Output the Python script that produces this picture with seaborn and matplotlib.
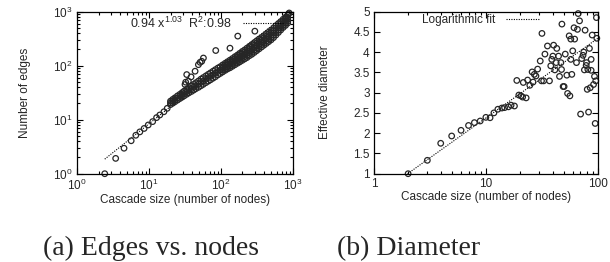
import numpy as np
import pandas as pd
import matplotlib
matplotlib.use("Agg")
import matplotlib.pyplot as plt
import seaborn as sns
from matplotlib.ticker import LogLocator, FuncFormatter, MultipleLocator, NullFormatter

# --- (a) edges vs nodes: values ---
small_nodes = [2.44, 3.46, 4.52, 5.68, 6.59, 7.5, 8.6, 9.8, 11.3, 12.8, 14.2, 16.2, 18.0]
small_edges = [1.0, 1.92, 2.96, 4.07, 5.14, 5.94, 6.87, 7.97, 9.2, 10.9, 12.2, 14.0, 16.2]

outlier_nodes = [172, 85, 134, 57.3, 54.3, 48.8, 51.5, 43.9, 33.6, 38.6, 32.5, 35.4, 31.8, 297, 870, 890]
outlier_edges = [351, 190, 210, 138, 120, 104, 115, 78.7, 68.2, 61.8, 49.3, 51.5, 44.7, 433, 900, 940]

# dense band of cascades (lower edge, middle, upper edge)
band_nodes = [20, 21.5, 23, 25, 27, 29, 31, 33.5, 36, 39, 42, 45, 49, 53, 57, 62, 67, 72, 78, 84,
              91, 98, 106, 115, 124, 134, 145, 157, 170, 183, 198, 214, 231, 250, 270, 292, 315,
              340, 368, 397, 429, 463, 500, 540, 583, 630, 680, 735, 793, 850]
band_low = [19.0, 20.2, 21.4, 23.0, 24.6, 26.1, 27.6, 29.5, 31.3, 33.2, 35.3, 37.4, 39.7, 42.4, 45.0,
            48.4, 51.6, 54.7, 58.5, 62.2, 67.3, 71.5, 76.3, 81.7, 86.8, 91.1, 97.2, 103.6, 110.5,
            117.1, 124.7, 132.7, 140.9, 152.5, 162.0, 175.2, 189.0, 204.0, 220.8, 238.2, 257.4,
            277.8, 300.0, 329.4, 367.3, 409.5, 455.6, 507.2, 555.1, 612.0]
band_mid = [20.4, 21.9, 23.3, 25.1, 26.9, 28.7, 30.5, 32.8, 34.9, 37.4, 39.8, 42.4, 45.4, 48.8, 51.9,
            55.9, 59.7, 63.4, 67.9, 72.3, 77.9, 82.5, 88.6, 95.0, 101.1, 107.1, 114.5, 123.0, 131.5,
            140.4, 150.7, 160.8, 172.1, 186.3, 199.5, 215.8, 232.8, 251.2, 270.4, 291.7, 315.3,
            340.2, 367.4, 402.3, 446.2, 495.1, 545.4, 604.4, 660.2, 721.2]
band_high = [22.0, 23.7, 25.3, 27.5, 29.4, 31.6, 33.8, 36.5, 38.9, 42.1, 44.9, 48.2, 51.9, 56.2, 59.9,
             64.5, 69.0, 73.4, 78.8, 84.0, 90.1, 95.1, 102.8, 110.4, 117.8, 126.0, 134.9, 146.0,
             156.4, 168.4, 182.2, 194.7, 210.2, 227.5, 245.7, 265.7, 286.7, 309.4, 331.2, 357.3,
             386.1, 416.7, 450.0, 491.4, 542.2, 598.5, 652.8, 720.3, 785.1, 850.0]

# the band is thicker for big cascades: two extra rows there
wide_nodes = [106, 115, 124, 134, 145, 157, 170, 183, 198, 214, 231, 250, 270, 292, 315,
              340, 368, 397, 429, 463, 500, 540, 583, 630, 680, 735, 793, 850]
wide_q1 = [82.2, 88.1, 93.7, 98.8, 105.5, 112.9, 120.5, 128.2, 137.1, 146.1, 155.7, 168.6, 179.8,
           194.4, 209.8, 226.4, 244.3, 263.6, 284.9, 307.4, 332.0, 364.0, 404.8, 450.3, 498.5,
           553.7, 605.4, 664.4]
wide_q3 = [95.4, 102.4, 109.1, 116.2, 124.3, 134.0, 143.4, 153.8, 165.7, 176.9, 190.2, 205.9, 221.4,
           239.5, 258.3, 278.8, 299.3, 322.8, 348.9, 376.5, 406.6, 444.6, 491.9, 544.3, 596.7,
           659.8, 719.9, 783.0]

fit_a_nodes = [2.44, 900]
fit_a_edges = [1.86, 1000]
fit_a_label = r"0.94 x$^{1.03}$  R$^{2}$:0.98"

# --- (b) diameter ---
diam_nodes = [2.02, 3.0, 3.95, 4.95, 6.0, 7.0, 7.9, 8.9, 10.0, 10.9, 11.8, 12.8, 13.9, 14.7, 15.9,
              16.8, 18.0, 18.9, 19.7, 20.6, 21.3, 22.9, 21.6, 23.6, 24.7, 25.9, 26.4, 27.1, 28.0,
              29.0, 30.6, 31.7, 31.4, 32.8, 33.7, 35.5, 37.0, 38.0, 38.8, 39.7, 40.3, 41.3, 43.0,
              42.5, 44.6, 45.5, 46.8, 47.4, 47.8, 49.0, 50.0, 51.2, 52.9, 53.7, 55.5, 56.3, 57.4,
              57.4, 58.6, 59.7, 61.3, 62.1, 64.5, 65.8, 66.8, 68.7, 70.2, 71.8, 73.8, 74.9, 75.9,
              77.0, 78.7, 79.3, 80.5, 81.5, 82.7, 84.2, 85.5, 87.2, 87.2, 89.1, 91.6, 93.4, 94.8,
              95.9, 97.2, 98.0]
diam_values = [1.0, 1.33, 1.75, 1.93, 2.07, 2.19, 2.26, 2.3, 2.39, 2.38, 2.5, 2.59, 2.62, 2.63, 2.65,
               2.69, 2.67, 3.3, 2.94, 2.92, 2.89, 2.87, 3.25, 3.31, 3.18, 3.51, 3.26, 3.45, 3.41,
               3.58, 3.78, 4.46, 3.29, 3.29, 3.95, 4.15, 3.29, 3.66, 3.82, 3.9, 4.17, 3.56, 4.09,
               3.74, 3.9, 3.4, 3.74, 3.57, 4.69, 3.15, 3.15, 3.95, 3.43, 2.98, 4.4, 2.92, 4.32,
               3.82, 3.45, 4.03, 4.6, 4.32, 3.74, 4.56, 4.95, 4.77, 2.47, 3.84, 3.92, 4.0, 3.56,
               4.54, 3.67, 3.74, 3.08, 3.57, 2.52, 4.09, 3.12, 3.82, 3.55, 4.42, 3.2, 3.4, 2.24,
               3.29, 4.85, 4.34]

fit_b_nodes = [2.0, 100.0]
fit_b_diam = [1.0, 4.34]
fit_b_label = "Logarithmic fit"

edges_df = pd.DataFrame({
    "nodes": small_nodes + outlier_nodes + band_nodes * 3 + wide_nodes * 2,
    "edges": small_edges + outlier_edges + band_low + band_mid + band_high + wide_q1 + wide_q3,
})
diam_df = pd.DataFrame({"nodes": diam_nodes, "diameter": diam_values})

sns.set_theme(style="ticks")
plt.rcParams["font.family"] = ["Liberation Sans", "DejaVu Sans"]
plt.rcParams["mathtext.fontset"] = "custom"
plt.rcParams["mathtext.rm"] = "Liberation Sans"
plt.rcParams["mathtext.it"] = "Liberation Sans:italic"
plt.rcParams["axes.edgecolor"] = "black"
plt.rcParams["axes.linewidth"] = 0.9

FS = 8.5
fig = plt.figure(figsize=(6.1, 2.62), dpi=100)
ax1 = fig.add_axes([0.126, 0.337, 0.354, 0.619])
ax2 = fig.add_axes([0.613, 0.337, 0.367, 0.619])

point_kw = dict(marker="o", s=16, facecolor="none", edgecolor="#262626", linewidth=0.9, legend=False)
line_kw = dict(color="black", linestyle=(0, (1, 1.2)), linewidth=0.8)

# (a)
ax1.set_xscale("log")
ax1.set_yscale("log")
sns.lineplot(x=fit_a_nodes, y=fit_a_edges, ax=ax1, label=fit_a_label, zorder=1, **line_kw)
sns.scatterplot(data=edges_df, x="nodes", y="edges", ax=ax1, zorder=2, clip_on=False, **point_kw)
ax1.set_xlim(1, 1000)
ax1.set_ylim(1, 1000)
ax1.set_xlabel("Cascade size (number of nodes)", fontsize=FS, labelpad=1)
ax1.set_ylabel("Number of edges", fontsize=FS, labelpad=16)
for axis in (ax1.xaxis, ax1.yaxis):
    axis.set_major_locator(LogLocator(base=10, numticks=10))
    axis.set_minor_locator(LogLocator(base=10, subs=np.arange(2, 10), numticks=10))
    axis.set_minor_formatter(NullFormatter())
ax1.legend(loc="upper right", bbox_to_anchor=(0.954, 0.975), frameon=False, markerfirst=False,
           fontsize=9, handlelength=3.2, handletextpad=0.9, borderpad=0, borderaxespad=0)

# (b)
ax2.set_xscale("log")
sns.lineplot(x=fit_b_nodes, y=fit_b_diam, ax=ax2, label=fit_b_label, zorder=1, **line_kw)
sns.scatterplot(data=diam_df, x="nodes", y="diameter", ax=ax2, zorder=2, clip_on=False, **point_kw)
ax2.set_xlim(1, 100)
ax2.set_ylim(1, 5)
ax2.set_xlabel("Cascade size (number of nodes)", fontsize=FS, labelpad=1)
ax2.set_ylabel("Effective diameter", fontsize=FS, labelpad=16)
ax2.xaxis.set_major_locator(LogLocator(base=10, numticks=10))
ax2.xaxis.set_minor_locator(LogLocator(base=10, subs=np.arange(2, 10), numticks=10))
ax2.xaxis.set_minor_formatter(NullFormatter())
ax2.xaxis.set_major_formatter(FuncFormatter(lambda v, _: f"{v:g}"))
ax2.yaxis.set_major_locator(MultipleLocator(0.5))
ax2.yaxis.set_major_formatter(FuncFormatter(lambda v, _: f"{v:g}"))
ax2.legend(loc="upper right", bbox_to_anchor=(0.741, 0.985), frameon=False, markerfirst=False,
           fontsize=FS, handlelength=2.9, handletextpad=0.9, borderpad=0, borderaxespad=0)

for ax in (ax1, ax2):
    ax.tick_params(which="both", direction="in", top=True, right=True, labelsize=FS,
                   color="black", width=0.8, pad=3)
    ax.tick_params(which="major", length=4)
    ax.tick_params(which="minor", length=2)
    for sp in ax.spines.values():
        sp.set_visible(True)
        sp.set_color("black")

fig.text(0.248, 0.025, "(a) Edges vs. nodes", ha="center", va="baseline",
         family=["Liberation Serif", "DejaVu Serif"], fontsize=20)
fig.text(0.669, 0.025, "(b) Diameter", ha="center", va="baseline",
         family=["Liberation Serif", "DejaVu Serif"], fontsize=20)

fig.savefig("out.png", dpi=100)
